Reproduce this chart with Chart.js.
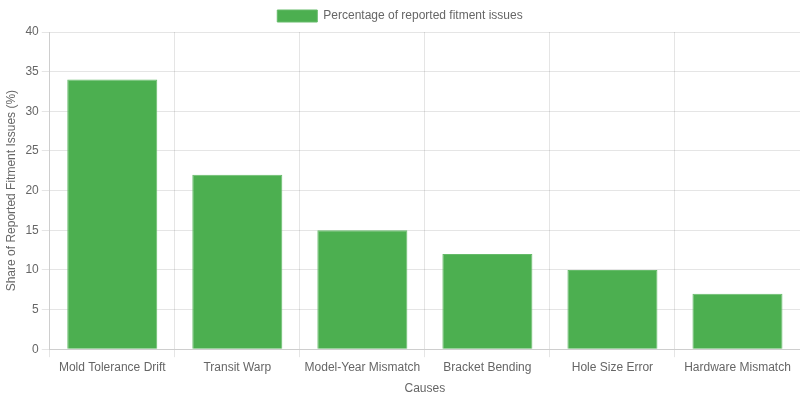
<!DOCTYPE html>
<html>
<head>
<meta charset="utf-8">
<script src="https://cdn.jsdelivr.net/npm/chart.js@4"></script>
<style>
  html, body { margin: 0; padding: 0; background: #fff; }
  #wrap { width: 800px; height: 400px; }
</style>
</head>
<body>
<div id="wrap"><canvas id="chart"></canvas></div>
<script>
const causes = ['Mold Tolerance Drift', 'Transit Warp', 'Model-Year Mismatch', 'Bracket Bending', 'Hole Size Error', 'Hardware Mismatch'];
const shares = [34, 22, 15, 12, 10, 7];

Chart.defaults.font.family = '"Liberation Sans", Arial, sans-serif';
Chart.defaults.font.size = 12;
Chart.defaults.color = '#666';

new Chart(document.getElementById('chart').getContext('2d'), {
    type: 'bar',
    data: {
        labels: causes,
        datasets: [{
            label: 'Percentage of reported fitment issues',
            backgroundColor: '#4CAF50',
            borderColor: '#66BB6A',
            borderWidth: 1,
            data: shares
        }]
    },
    options: {
        responsive: true,
        maintainAspectRatio: false,
        animation: false,
        plugins: {
            legend: {
                display: true
            }
        },
        scales: {
            x: {
                title: { display: true, text: 'Causes' }
            },
            y: {
                beginAtZero: true,
                max: 40,
                ticks: { stepSize: 5 },
                title: { display: true, text: 'Share of Reported Fitment Issues (%)' }
            }
        }
    }
});
</script>
</body>
</html>
